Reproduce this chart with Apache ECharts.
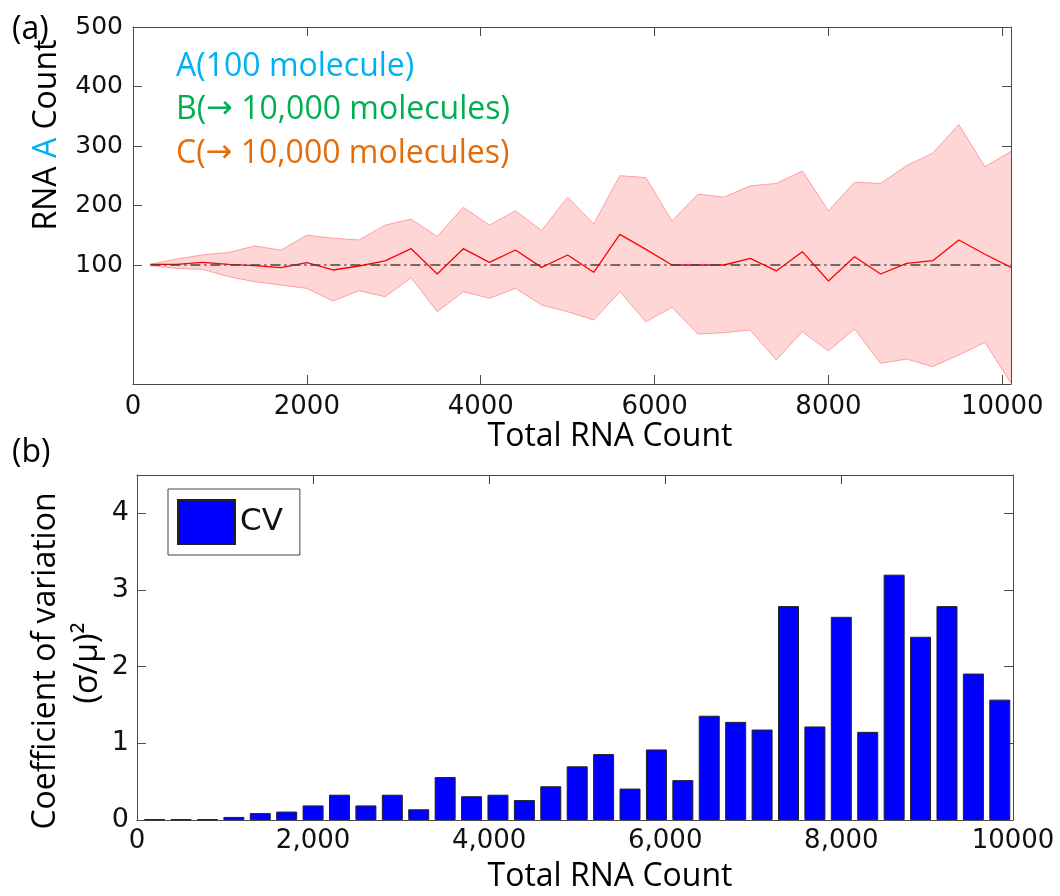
<!DOCTYPE html>
<html>
<head>
<meta charset="utf-8">
<script src="https://cdn.jsdelivr.net/npm/echarts@6/dist/echarts.min.js"></script>
<style>
  html, body { margin: 0; padding: 0; background: #ffffff; }
  #chart { width: 1060px; height: 896px; }
</style>
</head>
<body>
<div id="chart"></div>
<script>
// (a) RNA A count versus total RNA count: mean with spread band
const totalCount = [200, 500, 800, 1100, 1400, 1700, 2000, 2300, 2600, 2900, 3200, 3500,
  3800, 4100, 4400, 4700, 5000, 5300, 5600, 5900, 6200, 6500, 6800, 7100, 7400, 7700,
  8000, 8300, 8600, 8900, 9200, 9500, 9800, 10100];
const meanA = [101, 101, 104.5, 101, 99, 95.5, 104, 91.6, 98.3, 107, 127.4, 84.9,
  127.4, 104.5, 125.2, 96, 116.8, 87.7, 151.5, 126.3, 100, 100, 100, 111.2, 90, 122.4,
  73.1, 114, 84.9, 102.8, 107.3, 142, 118, 96];
const upperA = [101, 110, 117, 121, 132, 125, 150, 145, 142, 167, 177, 148,
  197, 167, 191, 158, 214, 169, 250, 247, 174, 219, 214, 233, 237, 258,
  191, 239, 237, 267, 288, 336, 265, 291];
const lowerA = [99, 94.4, 92.7, 80.4, 72, 66.4, 60.8, 39.5, 56.9, 46.7, 78.7, 21.5,
  55.2, 44, 60.8, 32.8, 21.5, 7.6, 55.2, 4.7, 28.9, -16, -13.7, -9.2, -59.7, -12,
  -44.5, -7.6, -65.2, -58, -70.9, -51.3, -30, -98.8];
const targetA = 100;

// (b) coefficient of variation per total RNA count
const cvCount = [200, 500, 800, 1100, 1400, 1700, 2000, 2300, 2600, 2900, 3200, 3500,
  3800, 4100, 4400, 4700, 5000, 5300, 5600, 5900, 6200, 6500, 6800, 7100, 7400, 7700,
  8000, 8300, 8600, 8900, 9200, 9500, 9800];
const cvValues = [0.01, 0.01, 0.01, 0.04, 0.09, 0.11, 0.19, 0.33, 0.19, 0.33, 0.14, 0.56,
  0.31, 0.33, 0.26, 0.44, 0.70, 0.86, 0.41, 0.92, 0.52, 1.36, 1.28, 1.18, 2.79, 1.22,
  2.65, 1.15, 3.20, 2.39, 2.79, 1.91, 1.57];

// tick values and labels
const countTicksA = [0, 2000, 4000, 6000, 8000, 10000];
const countLabelsA = ['0', '2000', '4000', '6000', '8000', '10000'];
const rnaTicks = [100, 200, 300, 400, 500];
const countTicksB = [0, 2000, 4000, 6000, 8000, 10000];
const countLabelsB = ['0', '2,000', '4,000', '6,000', '8,000', '10000'];
const cvTicks = [0, 1, 2, 3, 4];

const COUNT_MAX_A = 10100;
const COUNT_MAX_B = 9950;

const AXIS_COLOR = '#4a4a4a';
const TICK_FONT = { fontFamily: 'DejaVu Sans', fontSize: 26, color: '#111' };
const TITLE_FONT = '32px "Open Sans"';
const ARROW_FONT = '32px "DejaVu Sans"';
const BAND_EDGE = '#ff9e9e';
const BAND_FILL = '#ffd6d6';

const pairs = (xs, ys) => xs.map((x, i) => [x, ys[i]]);

function frameAxis(base) {
  return Object.assign({
    type: 'value',
    splitLine: { show: false },
    axisLine: { show: true, onZero: false, lineStyle: { color: AXIS_COLOR, width: 1 } },
  }, base);
}

// tick labels for panel (b): the last label sits at the end of the axis
const labelPosB = countTicksB.map(v => Math.min(v, COUNT_MAX_B));
function labelB(v) {
  const i = labelPosB.indexOf(v);
  return i >= 0 ? countLabelsB[i] : '';
}
function labelA(v) {
  const i = countTicksA.indexOf(v);
  return i >= 0 ? countLabelsA[i] : '';
}

// filled band between lowerA and upperA, drawn as one polygon in data coordinates
function renderBand(params, api) {
  if (params.dataIndex !== 0) return null;
  const top = totalCount.map((x, i) => api.coord([x, upperA[i]]));
  const bottom = totalCount.map((x, i) => api.coord([x, lowerA[i]])).reverse();
  return {
    type: 'polygon',
    shape: { points: top.concat(bottom) },
    style: { fill: BAND_FILL, stroke: null }
  };
}

// coloured species annotation; the arrow uses a font that carries a full-size glyph
function speciesText(y, prefix, rest, color) {
  return {
    type: 'text', z: 100, x: 176, y: y,
    style: {
      text: '{t|' + prefix + '}{r|\u2192}{t| ' + rest + '}',
      verticalAlign: 'middle',
      font: TITLE_FONT,
      rich: {
        t: { font: TITLE_FONT, fill: color },
        r: { font: ARROW_FONT, fill: color }
      }
    }
  };
}

const option = {
  animation: false,
  backgroundColor: '#ffffff',
  grid: [
    { left: 133, right: 49, top: 27, height: 357 },
    { left: 137, right: 47, top: 475, height: 345 }
  ],
  xAxis: [
    frameAxis({
      gridIndex: 0, position: 'bottom', min: 0, max: COUNT_MAX_A,
      axisTick: { show: true, inside: true, length: 9, customValues: countTicksA.slice(1),
        lineStyle: { color: AXIS_COLOR } },
      axisLabel: Object.assign({ customValues: countTicksA, formatter: labelA, margin: 10 }, TICK_FONT)
    }),
    frameAxis({
      gridIndex: 0, position: 'top', min: 0, max: COUNT_MAX_A,
      axisTick: { show: true, inside: true, length: 9, customValues: countTicksA.slice(1),
        lineStyle: { color: AXIS_COLOR } },
      axisLabel: { show: false }
    }),
    frameAxis({
      gridIndex: 1, position: 'bottom', min: 0, max: COUNT_MAX_B,
      axisTick: { show: true, inside: true, length: 9, customValues: countTicksB.slice(1, 5),
        lineStyle: { color: AXIS_COLOR } },
      axisLabel: Object.assign({ customValues: labelPosB, formatter: labelB, margin: 8 }, TICK_FONT)
    }),
    frameAxis({
      gridIndex: 1, position: 'top', min: 0, max: COUNT_MAX_B,
      axisTick: { show: true, inside: true, length: 9, customValues: countTicksB.slice(1, 5),
        lineStyle: { color: AXIS_COLOR } },
      axisLabel: { show: false }
    })
  ],
  yAxis: [
    frameAxis({
      gridIndex: 0, position: 'left', min: -100, max: 500,
      axisTick: { show: true, inside: true, length: 9, customValues: rnaTicks,
        lineStyle: { color: AXIS_COLOR } },
      axisLabel: Object.assign({ customValues: rnaTicks, margin: 10 }, TICK_FONT, { fontSize: 25 })
    }),
    frameAxis({
      gridIndex: 0, position: 'right', min: -100, max: 500,
      axisTick: { show: true, inside: true, length: 9, customValues: rnaTicks,
        lineStyle: { color: AXIS_COLOR } },
      axisLabel: { show: false }
    }),
    frameAxis({
      gridIndex: 1, position: 'left', min: 0, max: 4.5,
      axisTick: { show: true, inside: true, length: 9, customValues: cvTicks,
        lineStyle: { color: AXIS_COLOR } },
      axisLabel: Object.assign({ customValues: cvTicks, margin: 8 }, TICK_FONT, { fontSize: 27 })
    }),
    frameAxis({
      gridIndex: 1, position: 'right', min: 0, max: 4.5,
      axisTick: { show: true, inside: true, length: 9, customValues: cvTicks,
        lineStyle: { color: AXIS_COLOR } },
      axisLabel: { show: false }
    })
  ],
  legend: {
    data: ['CV'],
    left: 168, top: 489,
    padding: [10, 17, 10, 9],
    itemWidth: 57, itemHeight: 44,
    icon: 'rect',
    selectedMode: false,
    borderColor: '#444', borderWidth: 1,
    backgroundColor: '#ffffff',
    textStyle: { fontFamily: 'DejaVu Sans', fontSize: 31, color: '#111' }
  },
  series: [
    {
      name: 'band', type: 'custom', xAxisIndex: 0, yAxisIndex: 0,
      data: pairs(totalCount, upperA),
      renderItem: renderBand,
      clip: true, silent: true,
      z: 1
    },
    {
      name: 'upper', type: 'line', xAxisIndex: 0, yAxisIndex: 0,
      data: pairs(totalCount, upperA),
      symbol: 'none', silent: true,
      lineStyle: { color: BAND_EDGE, width: 1 },
      z: 2
    },
    {
      name: 'lower', type: 'line', xAxisIndex: 0, yAxisIndex: 0,
      data: pairs(totalCount, lowerA),
      symbol: 'none', silent: true,
      lineStyle: { color: BAND_EDGE, width: 1 },
      z: 2
    },
    {
      name: 'mean', type: 'line', xAxisIndex: 0, yAxisIndex: 0,
      data: pairs(totalCount, meanA),
      symbol: 'none', silent: true,
      lineStyle: { color: '#ff0000', width: 1.3 },
      z: 3
    },
    {
      name: 'target', type: 'line', xAxisIndex: 0, yAxisIndex: 0,
      data: totalCount.map(x => [x, targetA]),
      symbol: 'none', silent: true,
      lineStyle: { color: '#444444', width: 1.4, type: [10, 4, 2, 4] },
      z: 4
    },
    {
      name: 'CV', type: 'bar', xAxisIndex: 2, yAxisIndex: 2,
      data: pairs(cvCount, cvValues),
      barWidth: 21,
      itemStyle: { color: '#0000ff', borderColor: '#222222', borderWidth: 1 },
      z: 2
    }
  ],
  graphic: [
    { type: 'text', z: 100, left: 12, top: 14, style: { text: '(a)', font: TITLE_FONT, fill: '#000' } },
    { type: 'text', z: 100, left: 12, top: 437, style: { text: '(b)', font: TITLE_FONT, fill: '#000' } },
    {
      type: 'text', z: 100, x: 47, y: 135, rotation: Math.PI / 2,
      style: {
        text: '{n|RNA }{a|A}{n| Count}',
        align: 'center', verticalAlign: 'middle',
        font: TITLE_FONT,
        rich: {
          n: { font: TITLE_FONT, fill: '#000' },
          a: { font: TITLE_FONT, fill: '#00b0f0' }
        }
      }
    },
    { type: 'text', z: 100, x: 176, y: 67, style: { text: 'A(100 molecule)', font: TITLE_FONT, fill: '#00b0f0', verticalAlign: 'middle' } },
    speciesText(110, 'B(', '10,000 molecules)', '#00b050'),
    speciesText(154, 'C(', '10,000 molecules)', '#e46c0a'),
    { type: 'text', z: 100, x: 610, y: 437, style: { text: 'Total RNA Count', font: TITLE_FONT, fill: '#000', align: 'center', verticalAlign: 'middle' } },
    { type: 'text', z: 100, x: 610, y: 877, style: { text: 'Total RNA Count', font: TITLE_FONT, fill: '#000', align: 'center', verticalAlign: 'middle' } },
    {
      type: 'text', z: 100, x: 46, y: 661, rotation: Math.PI / 2,
      style: { text: 'Coefficient of variation', font: TITLE_FONT, fill: '#000', align: 'center', verticalAlign: 'middle' }
    },
    {
      type: 'text', z: 100, x: 88, y: 663, rotation: Math.PI / 2,
      style: { text: '(\u03c3/\u03bc)\u00b2', font: TITLE_FONT, fill: '#000', align: 'center', verticalAlign: 'middle' }
    }
  ]
};

const chart = echarts.init(document.getElementById('chart'), null, { renderer: 'canvas' });
chart.setOption(option);
</script>
</body>
</html>
